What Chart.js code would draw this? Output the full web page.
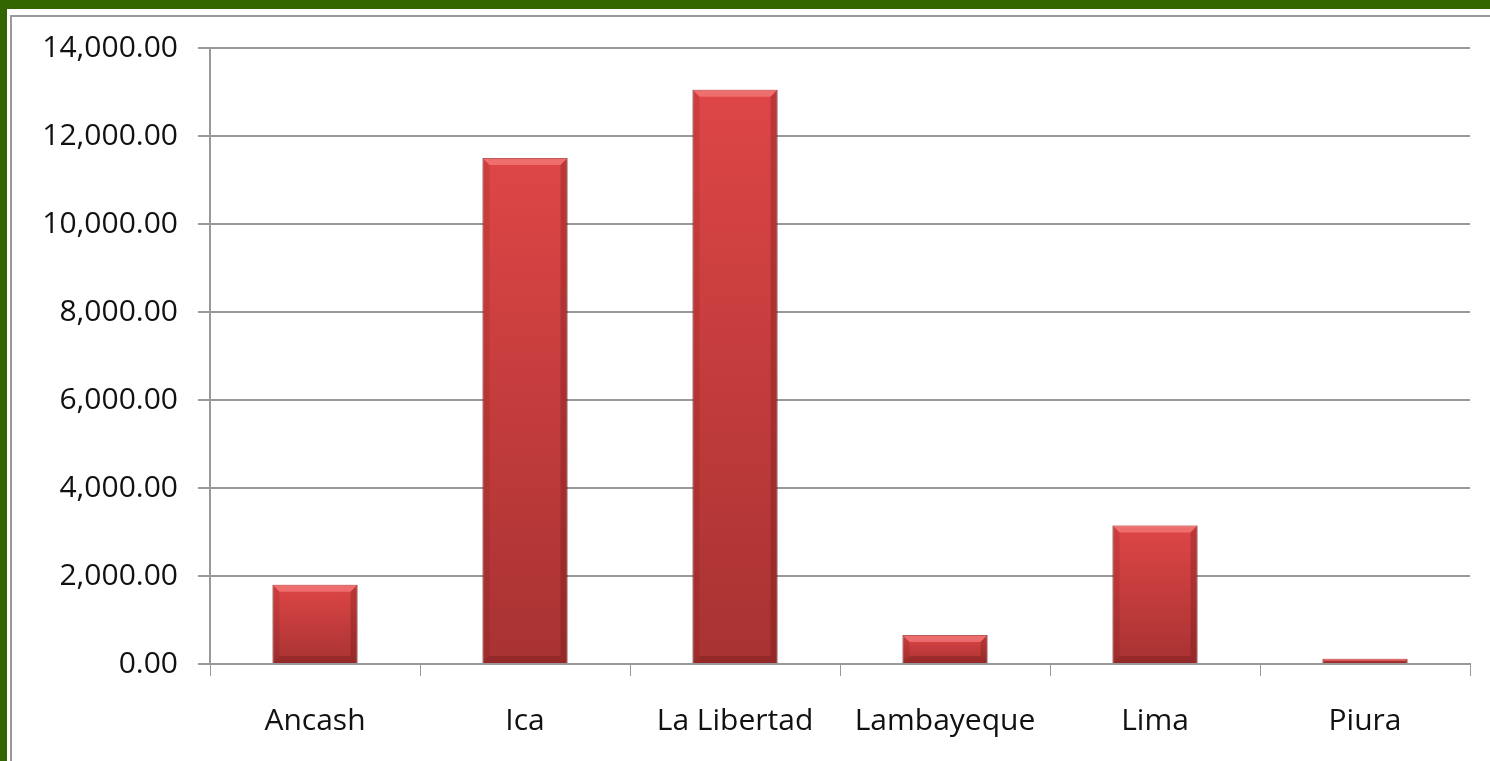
<!DOCTYPE html>
<html>
<head>
<meta charset="utf-8">
<script src="https://cdn.jsdelivr.net/npm/chart.js@4"></script>
<style>
  html, body { margin: 0; padding: 0; background: #336600; }
  body { width: 1490px; height: 761px; position: relative; overflow: hidden; }
  #frame { position: absolute; left: 7px; top: 9px; right: 0; bottom: 0; background: #fff; }
  #inner { position: absolute; left: 3px; top: 6px; right: 0; bottom: 0; border-top: 2px solid #999; border-left: 2px solid #999; }
  #regionChart { position: absolute; left: 0; top: 0; }
</style>
</head>
<body>
<div id="frame"><div id="inner"></div></div>
<canvas id="regionChart" width="1490" height="761"></canvas>
<script>
const regions = ['Ancash', 'Ica', 'La Libertad', 'Lambayeque', 'Lima', 'Piura'];
const amounts = [1800, 11500, 13050, 660, 3150, 120];
const yTicks = [0, 2000, 4000, 6000, 8000, 10000, 12000, 14000];

const regionChart = document.getElementById('regionChart');

// each bar gets its own top-to-bottom gradient
function barFill(context) {
    const chart = context.chart;
    const area = chart.chartArea;
    if (!area || !chart.scales.y) return '#d04040';
    const top = chart.scales.y.getPixelForValue(context.raw);
    const bottom = area.bottom;
    const g = chart.ctx.createLinearGradient(0, top, 0, bottom);
    g.addColorStop(0, '#de4646');
    g.addColorStop(1, '#a83232');
    return g;
}

// soft bevel on each bar, like the old office 3d style
const bevel = {
    id: 'bevel',
    afterDatasetsDraw(chart) {
        const ctx = chart.ctx;
        chart.getDatasetMeta(0).data.forEach(bar => {
            const w = bar.width;
            const left = bar.x - w / 2;
            const top = bar.y;
            const h = bar.base - bar.y;
            const b = Math.min(7, h / 2);
            ctx.save();
            ctx.fillStyle = 'rgba(255,150,150,0.5)';
            ctx.beginPath();
            ctx.moveTo(left, top);
            ctx.lineTo(left + w, top);
            ctx.lineTo(left + w - b, top + b);
            ctx.lineTo(left + b, top + b);
            ctx.closePath();
            ctx.fill();
            ctx.fillStyle = 'rgba(90,10,10,0.25)';
            ctx.beginPath();
            ctx.moveTo(left + w, top);
            ctx.lineTo(left + w, top + h);
            ctx.lineTo(left + w - b, top + h - b);
            ctx.lineTo(left + w - b, top + b);
            ctx.closePath();
            ctx.fill();
            ctx.beginPath();
            ctx.moveTo(left, top + h);
            ctx.lineTo(left + w, top + h);
            ctx.lineTo(left + w - b, top + h - b);
            ctx.lineTo(left + b, top + h - b);
            ctx.closePath();
            ctx.fill();
            ctx.fillStyle = 'rgba(90,10,10,0.12)';
            ctx.beginPath();
            ctx.moveTo(left, top);
            ctx.lineTo(left + b, top + b);
            ctx.lineTo(left + b, top + h - b);
            ctx.lineTo(left, top + h);
            ctx.closePath();
            ctx.fill();
            ctx.restore();
        });
    }
};

new Chart(regionChart, {
    type: 'bar',
    data: {
        labels: regions,
        datasets: [{
            data: amounts,
            backgroundColor: barFill,
            borderColor: '#7a1c1c',
            borderWidth: 1,
            barPercentage: 0.405,
            categoryPercentage: 1.0
        }]
    },
    options: {
        responsive: false,
        animation: false,
        devicePixelRatio: 1,
        layout: { padding: { left: 0, right: 20, top: 48, bottom: 0 } },
        plugins: { legend: { display: false }, tooltip: { enabled: false } },
        scales: {
            x: {
                grid: { drawOnChartArea: false, drawTicks: true, tickLength: 12, color: '#999', offset: true },
                border: { color: '#999', width: 2 },
                ticks: { color: '#111', font: { family: 'Open Sans', size: 30 }, padding: 27 },
                afterFit(scale) { scale.height = 97; }
            },
            y: {
                min: 0,
                max: 14000,
                afterBuildTicks(scale) { scale.ticks = yTicks.map(v => ({ value: v })); },
                grid: { color: '#999', lineWidth: 2, tickLength: 12 },
                border: { color: '#999', width: 2 },
                ticks: {
                    color: '#111',
                    font: { family: 'Open Sans', size: 30 },
                    padding: 20,
                    callback: v => v.toLocaleString('en-US', { minimumFractionDigits: 2, maximumFractionDigits: 2 })
                },
                afterFit(scale) { scale.width = 210; }
            }
        }
    },
    plugins: [bevel]
});
</script>
</body>
</html>
